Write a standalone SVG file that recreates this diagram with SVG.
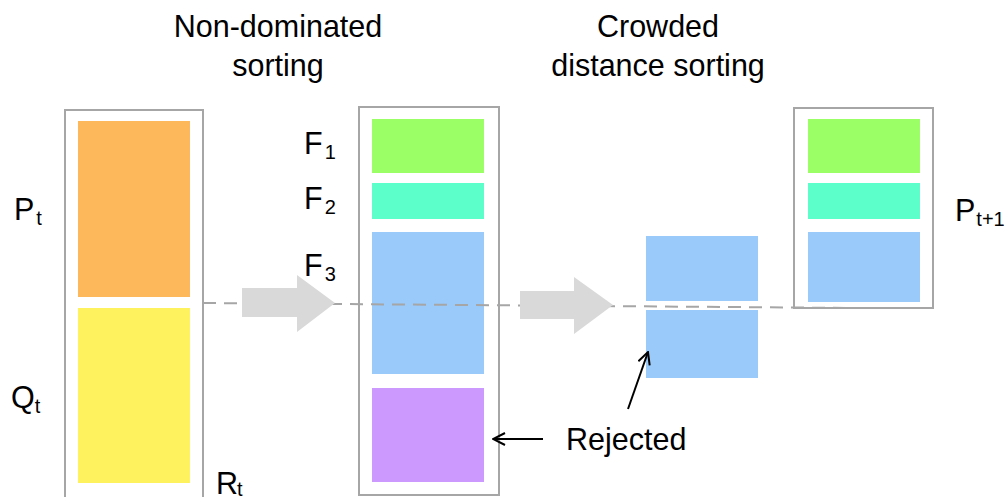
<svg xmlns="http://www.w3.org/2000/svg" width="1006" height="497" viewBox="0 0 1006 497">
  <style>
    text { font-family: "Liberation Sans", Arial, sans-serif; fill: #000; }
    .title { font-size: 30.5px; text-anchor: middle; }
    .lbl { font-size: 30.5px; }
    .sub { font-size: 20px; }
    .frame { fill: #fff; stroke: #A6A6A6; stroke-width: 2; }
    .orange { fill: #FDB85C; }
    .yellow { fill: #FEF25F; }
    .green { fill: #9BFF66; }
    .teal { fill: #5CFFC9; }
    .blue { fill: #99CAFA; }
    .purple { fill: #CC99FF; }
    .dash { fill: none; stroke: #A6A6A6; stroke-width: 2; stroke-dasharray: 13 8; }
    .flow { fill: #D9D9D9; }
    .pointer { fill: none; stroke: #000; stroke-width: 2; }
  </style>
  <defs>
    <marker id="openHead" viewBox="0 0 14 14" refX="13" refY="7" markerWidth="14" markerHeight="14" markerUnits="userSpaceOnUse" orient="auto">
      <path d="M1,1 L13,7 L1,13" fill="none" stroke="#000" stroke-width="2"/>
    </marker>
  </defs>

  <!-- step titles -->
  <g id="title-nds">
    <text class="title" x="278" y="37">Non-dominated</text>
    <text class="title" x="278" y="76">sorting</text>
  </g>
  <g id="title-cds">
    <text class="title" x="658" y="37">Crowded</text>
    <text class="title" x="658" y="76">distance sorting</text>
  </g>

  <!-- combined population R_t -->
  <g id="combined">
    <rect class="frame" x="65" y="110" width="138" height="400"/>
    <rect class="orange" x="78" y="121" width="112" height="176"/>
    <rect class="yellow" x="78" y="308" width="112" height="175"/>
    <text class="lbl" x="14" y="220">P<tspan class="sub" dx="2" dy="5">t</tspan></text>
    <text class="lbl" x="11" y="408">Q<tspan class="sub" dx="0" dy="5">t</tspan></text>
    <text class="lbl" x="216" y="494">R<tspan class="sub" dx="-1" dy="2">t</tspan></text>
  </g>

  <!-- fronts after non-dominated sorting -->
  <g id="fronts">
    <rect class="frame" x="359" y="107" width="140" height="388"/>
    <rect class="green" x="372" y="119" width="112" height="54"/>
    <rect class="teal" x="372" y="183" width="112" height="36"/>
    <rect class="blue" x="372" y="232" width="112" height="142"/>
    <rect class="purple" x="372" y="388" width="112" height="94"/>
    <text class="lbl" x="304" y="154">F<tspan class="sub" dx="2" dy="5">1</tspan></text>
    <text class="lbl" x="304" y="209">F<tspan class="sub" dx="2" dy="5">2</tspan></text>
    <text class="lbl" x="304" y="276">F<tspan class="sub" dx="2" dy="5">3</tspan></text>
  </g>

  <!-- F3 split by crowding distance -->
  <g id="split">
    <rect class="blue" x="646" y="236" width="112" height="65"/>
    <rect class="blue" x="646" y="310" width="112" height="68"/>
  </g>

  <!-- next population -->
  <g id="next">
    <rect class="frame" x="794" y="108" width="139" height="200"/>
    <rect class="green" x="808" y="119" width="112" height="54"/>
    <rect class="teal" x="808" y="183" width="112" height="36"/>
    <rect class="blue" x="808" y="232" width="112" height="70"/>
    <text class="lbl" x="955" y="221">P<tspan class="sub" dx="1" dy="5">t+1</tspan></text>
  </g>

  <g id="rejected-label">
    <text class="lbl" x="566" y="450">Rejected</text>
  </g>

  <!-- connectors -->
  <g id="connectors">
    <line class="dash" x1="203" y1="303" x2="857" y2="308"/>
    <path class="flow" d="M242,288 H297 V275 L335,303 L297,332 V317 H242 Z"/>
    <path class="flow" d="M520,291 H574 V277 L613,305 L574,334 V319 H520 Z"/>
    <line class="pointer" x1="543" y1="439" x2="493" y2="439" marker-end="url(#openHead)"/>
    <line class="pointer" x1="628" y1="409" x2="648" y2="352" marker-end="url(#openHead)"/>
  </g>
</svg>
